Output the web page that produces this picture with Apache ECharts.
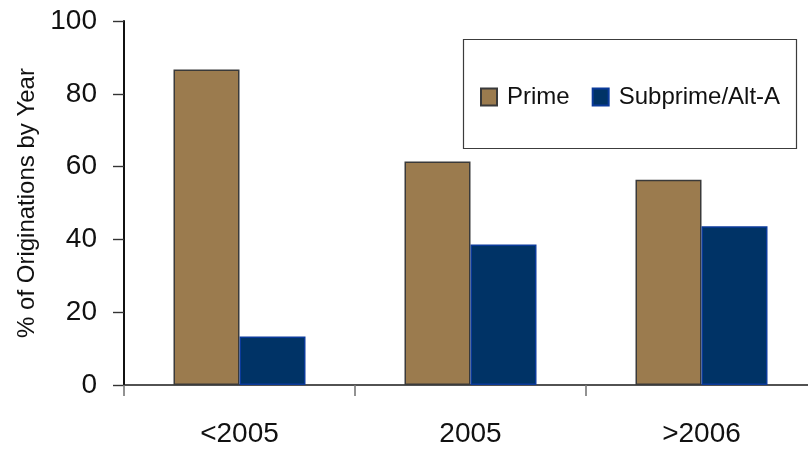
<!DOCTYPE html>
<html>
<head>
<meta charset="utf-8">
<script src="https://cdn.jsdelivr.net/npm/echarts@6/dist/echarts.min.js"></script>
<style>
  html, body { margin: 0; padding: 0; background: #fff; }
  #chart { width: 808px; height: 450px; }
</style>
</head>
<body>
<div id="chart"></div>
<script>
// Origination share by vintage
const categories = ['<2005', '2005', '>2006'];
const primeValues = [86.7, 61.4, 56.4];
const subprimeValues = [13.3, 38.6, 43.6];
const seriesNames = ['Prime', 'Subprime/Alt-A'];
const yAxisTitle = '% of Originations by Year';

const narrow = '"Liberation Sans Narrow", "Arial Narrow", "Liberation Sans", Arial, sans-serif';
const regular = '"Liberation Sans", Arial, sans-serif';

const chart = echarts.init(document.getElementById('chart'), null, { renderer: 'canvas' });

chart.setOption({
  animation: false,
  backgroundColor: '#ffffff',
  // plot runs past the right edge of the canvas
  grid: { left: 124, top: 21, width: 693, bottom: 65, containLabel: false, outerBoundsMode: 'none' },
  graphic: [{
    type: 'rect',
    shape: { x: 463.5, y: 39.5, width: 333, height: 109 },
    style: { fill: 'none', stroke: '#3c3c3c', lineWidth: 1.2 },
    z: 1
  }],
  legend: {
    left: 475,
    top: 80,
    itemWidth: 16,
    itemHeight: 17,
    itemGap: 22,
    icon: 'rect',
    textStyle: { fontFamily: regular, fontSize: 24, color: '#111', lineHeight: 17, padding: [0, 0, 0, 5] },
    data: seriesNames
  },
  xAxis: {
    type: 'category',
    data: categories,
    axisLine: { show: true, lineStyle: { color: '#1a1a1a', width: 1.6 } },
    axisTick: { show: true, length: 11, lineStyle: { color: '#777', width: 1.6 } },
    axisLabel: { fontFamily: narrow, fontSize: 28, color: '#111', margin: 35 }
  },
  yAxis: {
    type: 'value',
    min: 0,
    max: 100,
    interval: 20,
    name: yAxisTitle,
    nameLocation: 'middle',
    nameGap: 85,
    nameTextStyle: { fontFamily: narrow, fontSize: 24, color: '#111' },
    axisLine: { show: true, lineStyle: { color: '#111', width: 2 } },
    axisTick: { show: true, length: 11, lineStyle: { color: '#333', width: 1.4 } },
    splitLine: { show: false },
    axisLabel: { fontFamily: narrow, fontSize: 28, color: '#111', margin: 27 }
  },
  series: [
    {
      name: seriesNames[0],
      type: 'bar',
      data: primeValues,
      barWidth: 66,
      barGap: '0%',
      itemStyle: { color: '#9b7b4e', borderColor: '#3a3a3a', borderWidth: 1.5 }
    },
    {
      name: seriesNames[1],
      type: 'bar',
      data: subprimeValues,
      barWidth: 66,
      barGap: '0%',
      itemStyle: { color: '#003366', borderColor: '#0a3a9a', borderWidth: 1.5 }
    }
  ]
});
</script>
</body>
</html>
